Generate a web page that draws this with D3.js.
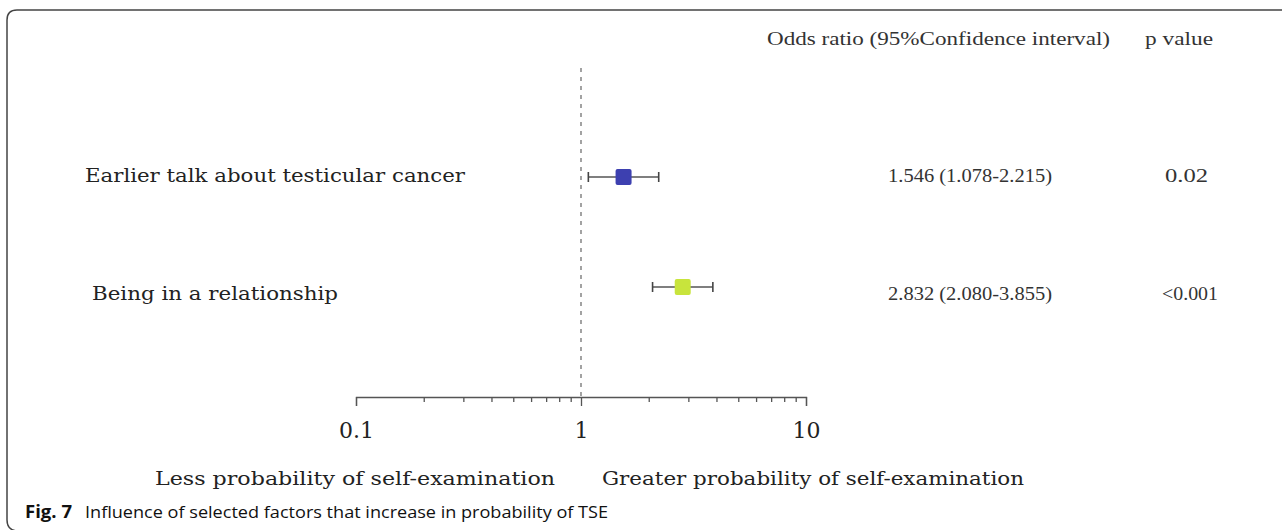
<!DOCTYPE html>
<html>
<head>
<meta charset="utf-8">
<script src="https://cdn.jsdelivr.net/npm/d3@7"></script>
<style>
  body { margin: 0; background: #fff; }
  svg { display: block; }
  .axis path, .axis line { stroke: #555; stroke-width: 1.3; }
  .axis text { font-family: "DejaVu Serif", serif; fill: #222; }
</style>
</head>
<body>
<div id="chart"></div>
<script>
// data
var factors = ["Earlier talk about testicular cancer", "Being in a relationship"];
var oddsRatio = [1.546, 2.832];
var ciLow = [1.078, 2.080];
var ciHigh = [2.215, 3.855];
var ciText = ["1.546 (1.078-2.215)", "2.832 (2.080-3.855)"];
var pValues = ["0.02", "<0.001"];
var markColors = ["#3d40b0", "#c8e43c"];
var majorTicks = [0.1, 1, 10];
var minorTicks = [0.2, 0.3, 0.4, 0.5, 0.6, 0.7, 0.8, 0.9, 2, 3, 4, 5, 6, 7, 8, 9];

var W = 1282, H = 530;
var svg = d3.select("#chart").append("svg").attr("width", W).attr("height", H);

// frame of the figure box
svg.append("path")
    .attr("d", "M" + W + ",10 L17,10 Q7,10 7,20 L7,520 Q7,530 17,531")
    .attr("fill", "none").attr("stroke", "#444").attr("stroke-width", 1.5);

var x = d3.scaleLog().domain([0.1, 10]).range([356, 806]);
var y = d3.scalePoint().domain(factors).range([177, 287]);
var textY = d3.scalePoint().domain(factors).range([182, 300]);
var axisY = 397;

// reference line at OR = 1
svg.append("line")
    .attr("x1", x(1)).attr("x2", x(1))
    .attr("y1", 68).attr("y2", axisY + 4)
    .attr("stroke", "#666").attr("stroke-width", 1.2)
    .attr("stroke-dasharray", "4,5");

// minor ticks + domain line
svg.append("g").attr("class", "axis")
    .attr("transform", "translate(0," + axisY + ")")
    .call(d3.axisBottom(x).tickValues(minorTicks).tickSize(5).tickSizeOuter(9).tickFormat(""));

// major ticks with labels
var major = svg.append("g").attr("class", "axis")
    .attr("transform", "translate(0," + axisY + ")")
    .call(d3.axisBottom(x).tickValues(majorTicks).tickSize(9).tickPadding(16)
        .tickFormat(function (d) { return d < 1 ? "0.1" : String(d); }));
major.select(".domain").remove();
major.selectAll("text").attr("font-size", 22);

// rows
var rows = svg.append("g").selectAll("g")
    .data(factors)
    .enter().append("g");

rows.append("line")
    .attr("x1", function (d, i) { return x(ciLow[i]); })
    .attr("x2", function (d, i) { return x(ciHigh[i]); })
    .attr("y1", function (d) { return y(d); })
    .attr("y2", function (d) { return y(d); })
    .attr("stroke", "#555").attr("stroke-width", 1.5);

[ciLow, ciHigh].forEach(function (arr) {
    rows.append("line")
        .attr("x1", function (d, i) { return x(arr[i]); })
        .attr("x2", function (d, i) { return x(arr[i]); })
        .attr("y1", function (d) { return y(d) - 5; })
        .attr("y2", function (d) { return y(d) + 5; })
        .attr("stroke", "#444").attr("stroke-width", 1.6);
});

rows.append("rect")
    .attr("x", function (d, i) { return x(oddsRatio[i]) - 8; })
    .attr("y", function (d) { return y(d) - 8; })
    .attr("width", 16).attr("height", 16)
    .attr("rx", 2)
    .attr("fill", function (d, i) { return markColors[i]; });

rows.append("text")
    .attr("x", function (d, i) { return i === 0 ? 85 : 92; })
    .attr("y", function (d) { return textY(d); })
    .attr("font-family", "DejaVu Serif, serif").attr("font-size", 19).attr("fill", "#222")
    .attr("textLength", function (d, i) { return i === 0 ? 380 : 246; })
    .attr("lengthAdjust", "spacingAndGlyphs")
    .text(function (d) { return d; });

rows.append("text")
    .attr("x", 888)
    .attr("y", function (d) { return textY(d); })
    .attr("font-family", "Liberation Serif, serif").attr("font-size", 18).attr("fill", "#333")
    .attr("textLength", 164).attr("lengthAdjust", "spacingAndGlyphs")
    .text(function (d, i) { return ciText[i]; });

rows.append("text")
    .attr("x", function (d, i) { return i === 0 ? 1165 : 1162; })
    .attr("y", function (d) { return textY(d); })
    .attr("font-family", "Liberation Serif, serif").attr("font-size", 18).attr("fill", "#333")
    .attr("textLength", function (d, i) { return i === 0 ? 43 : 56; })
    .attr("lengthAdjust", "spacingAndGlyphs")
    .text(function (d, i) { return pValues[i]; });

// column headers
svg.append("text").attr("x", 767).attr("y", 45)
    .attr("font-family", "Liberation Serif, serif").attr("font-size", 18).attr("fill", "#333")
    .attr("textLength", 343).attr("lengthAdjust", "spacingAndGlyphs")
    .text("Odds ratio (95%Confidence interval)");
svg.append("text").attr("x", 1145).attr("y", 45)
    .attr("font-family", "Liberation Serif, serif").attr("font-size", 18).attr("fill", "#333")
    .attr("textLength", 68).attr("lengthAdjust", "spacingAndGlyphs")
    .text("p value");

// direction labels
svg.append("text").attr("x", 155).attr("y", 485)
    .attr("font-family", "DejaVu Serif, serif").attr("font-size", 19).attr("fill", "#222")
    .attr("textLength", 400).attr("lengthAdjust", "spacingAndGlyphs")
    .text("Less probability of self-examination");
svg.append("text").attr("x", 602).attr("y", 485)
    .attr("font-family", "DejaVu Serif, serif").attr("font-size", 19).attr("fill", "#222")
    .attr("textLength", 422).attr("lengthAdjust", "spacingAndGlyphs")
    .text("Greater probability of self-examination");

// caption
svg.append("text").attr("x", 25).attr("y", 518)
    .attr("font-family", "Open Sans, sans-serif").attr("font-size", 17)
    .attr("font-weight", "bold").attr("fill", "#111")
    .attr("textLength", 47).attr("lengthAdjust", "spacingAndGlyphs")
    .text("Fig. 7");
svg.append("text").attr("x", 85).attr("y", 518)
    .attr("font-family", "Open Sans, sans-serif").attr("font-size", 17).attr("fill", "#111")
    .attr("textLength", 523).attr("lengthAdjust", "spacingAndGlyphs")
    .text("Influence of selected factors that increase in probability of TSE");
</script>
</body>
</html>
